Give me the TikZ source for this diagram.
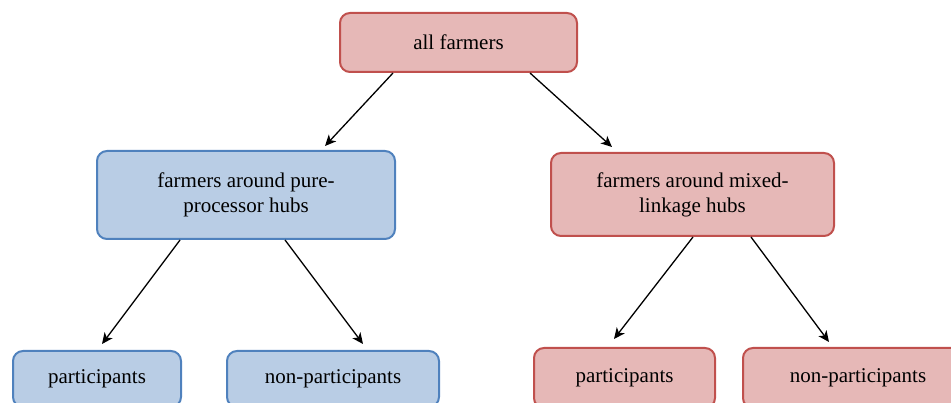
\documentclass[tikz,border=0pt]{standalone}
\usepackage{fontspec}
\setmainfont{Liberation Serif}
\usetikzlibrary{arrows.meta}
\definecolor{redfill}{HTML}{E6B8B7}
\definecolor{redline}{HTML}{C0504D}
\definecolor{bluefill}{HTML}{B9CDE5}
\definecolor{blueline}{HTML}{4F81BD}

\begin{document}
\begin{tikzpicture}[x=1pt,y=-1pt,
	box/.style={rectangle,rounded corners=10pt,line width=2pt,inner sep=0pt,align=center,
		font=\fontsize{21}{25}\selectfont},
	redbox/.style={box,draw=redline,fill=redfill},
	bluebox/.style={box,draw=blueline,fill=bluefill},
	link/.style={line width=1.3pt,-{Stealth[length=11pt,width=10pt,inset=3pt]}}]
	\useasboundingbox (0,0) rectangle (951,403);

	%BOXES
	\node[redbox,minimum width=237pt,minimum height=59pt] (all) at (458.5,42.5) {all farmers};
	\node[bluebox,minimum width=298pt,minimum height=88pt] (pure) at (246,195) {farmers around pure-\\processor hubs};
	\node[redbox,minimum width=283pt,minimum height=83pt] (mixed) at (692.5,194.5) {farmers around mixed-\\linkage hubs};
	\node[bluebox,minimum width=168pt,minimum height=56pt] (purepart) at (97,379) {participants};
	\node[bluebox,minimum width=212pt,minimum height=56pt] (purenon) at (333,379) {non-participants};
	\node[redbox,minimum width=181pt,minimum height=60pt] (mixedpart) at (624.5,378) {participants};
	\node[redbox,minimum width=230pt,minimum height=60pt] (mixednon) at (858,378) {non-participants};

	%ARROWS
	\draw[link] ([xshift=-65.5pt]all.south) -- ([xshift=79pt,yshift=4pt]pure.north); %all -- pure
	\draw[link] ([xshift=71.5pt]all.south) -- ([xshift=-80.5pt,yshift=5pt]mixed.north); %all -- mixed
	%
	\draw[link] ([xshift=-66pt]pure.south) -- ([xshift=5pt,yshift=6pt]purepart.north);
	\draw[link] ([xshift=39pt]pure.south) -- ([xshift=30pt,yshift=6pt]purenon.north);
	%
	\draw[link] ([xshift=0.5pt]mixed.south) -- ([xshift=-10.5pt,yshift=8pt]mixedpart.north);
	\draw[link] ([xshift=58.5pt]mixed.south) -- ([xshift=-29pt,yshift=5pt]mixednon.north);
\end{tikzpicture}
\end{document}
